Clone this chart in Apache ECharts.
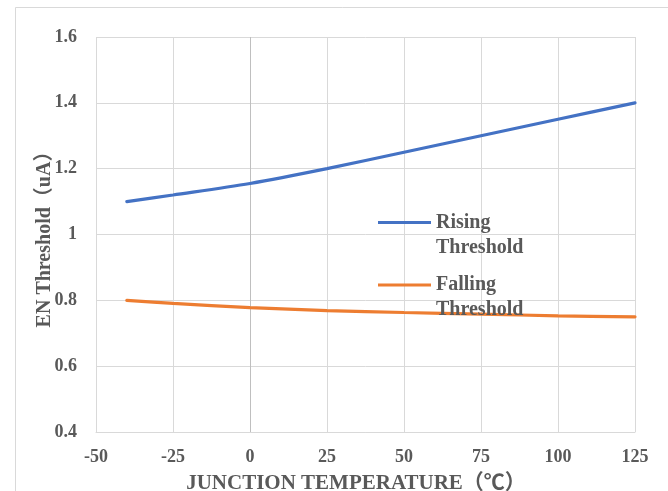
<!DOCTYPE html>
<html>
<head>
<meta charset="utf-8">
<script src="https://cdn.jsdelivr.net/npm/echarts@6/dist/echarts.min.js"></script>
<style>
html,body{margin:0;padding:0;background:#fff;}
#chart{width:668px;height:491px;}
</style>
</head>
<body>
<div id="chart"></div>
<script>
const temperatures = [-40, -25, 0, 25, 50, 75, 100, 125];
const risingThreshold = [1.10, 1.12, 1.155, 1.20, 1.25, 1.30, 1.35, 1.40];
const fallingThreshold = [0.80, 0.791, 0.778, 0.769, 0.763, 0.758, 0.753, 0.75];
const seriesNames = ['Rising\nThreshold', 'Falling\nThreshold'];
const xTitle = 'JUNCTION TEMPERATURE（℃）';
const yTitle = 'EN Threshold（uA）';

const FONT = '"Liberation Serif", "Times New Roman", "Noto Sans CJK SC", serif';
const TEXT = '#595959';
const GRID = '#d9d9d9';

function pairs(xs, ys) { return xs.map((x, i) => [x, ys[i]]); }

const chart = echarts.init(document.getElementById('chart'), null, {renderer: 'canvas'});
const legendText = {
  fontFamily: FONT, fontWeight: 'bold', fontSize: 20, color: TEXT, lineHeight: 25
};
const legendCommon = {
  left: 378, padding: 0, itemWidth: 53, itemHeight: 3.2, icon: 'rect',
  formatter: name => ' \n' + name, textStyle: legendText
};
chart.setOption({
  backgroundColor: '#fff',
  animation: false,
  graphic: [{
    type: 'rect', left: 13, top: 5, silent: true,
    shape: {width: 700, height: 600},
    style: {fill: 'none', stroke: GRID, lineWidth: 1}
  }],
  grid: {left: 96, right: 33, top: 37, bottom: 59, outerBoundsMode: 'none', containLabel: false},
  legend: [
    Object.assign({data: [seriesNames[0]], top: 185}, legendCommon),
    Object.assign({data: [seriesNames[1]], top: 247.5}, legendCommon)
  ],
  xAxis: {
    type: 'value', min: -50, max: 125, interval: 25,
    name: xTitle, nameLocation: 'middle', nameGap: 41, nameMoveOverlap: false,
    nameTextStyle: {fontFamily: FONT, fontWeight: 'bold', fontSize: 21, color: TEXT, padding: [0, 19, 0, 0]},
    axisLine: {show: true, onZero: false, lineStyle: {color: GRID, width: 1}},
    axisTick: {show: false},
    axisLabel: {fontFamily: FONT, fontWeight: 'bold', fontSize: 18, color: TEXT, margin: 16},
    splitLine: {show: true, lineStyle: {color: [GRID, GRID, '#bfbfbf', GRID, GRID, GRID, GRID, GRID], width: 1}}
  },
  yAxis: {
    type: 'value', min: 0.4, max: 1.6, interval: 0.2,
    name: yTitle, nameLocation: 'middle', nameGap: 41, nameRotate: 90, nameMoveOverlap: false,
    nameTextStyle: {fontFamily: FONT, fontWeight: 'bold', fontSize: 20, color: TEXT},
    axisLine: {show: false},
    axisTick: {show: false},
    axisLabel: {fontFamily: FONT, fontWeight: 'bold', fontSize: 18, color: TEXT, margin: 19},
    splitLine: {show: true, lineStyle: {color: GRID, width: 1}}
  },
  series: [
    {
      name: seriesNames[0], type: 'line', data: pairs(temperatures, risingThreshold),
      smooth: 0.3, symbol: 'none', z: 3,
      lineStyle: {color: '#4472c4', width: 3.2, cap: 'round'},
      itemStyle: {color: '#4472c4'}
    },
    {
      name: seriesNames[1], type: 'line', data: pairs(temperatures, fallingThreshold),
      smooth: 0.3, symbol: 'none', z: 3,
      lineStyle: {color: '#ed7d31', width: 3.2, cap: 'round'},
      itemStyle: {color: '#ed7d31'}
    }
  ]
});
</script>
</body>
</html>
